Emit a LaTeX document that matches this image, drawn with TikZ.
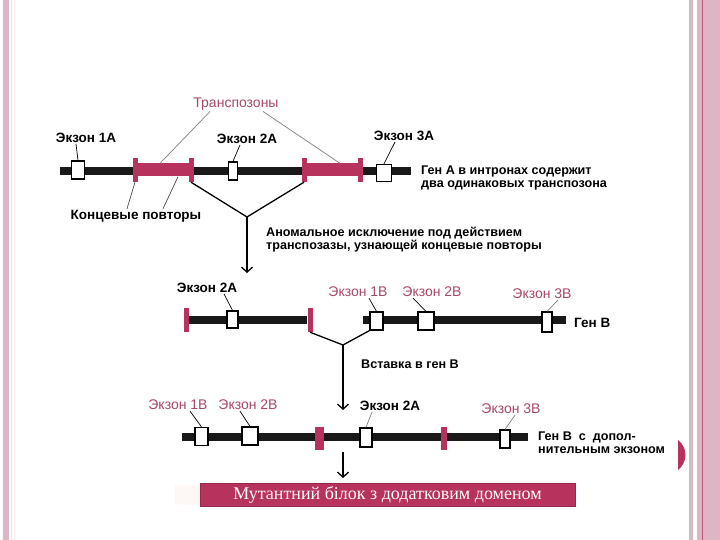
\documentclass[tikz,border=0pt]{standalone}
\usepackage{fontspec}
\setmainfont{Liberation Serif}
\setsansfont{Liberation Sans}
\usetikzlibrary{arrows.meta}
\usetikzlibrary{positioning}

\definecolor{tcrim}{HTML}{B8325E}
\definecolor{lpink}{HTML}{A8486A}
\definecolor{strip}{HTML}{DDB5C5}
\definecolor{edge}{HTML}{D2BCC4}

\begin{document}
\begin{tikzpicture}[x=1pt,y=-1pt,>={Straight Barb[length=5pt,width=11pt]},
    gene/.style={line width=8pt,black!90},
    exon/.style={draw,fill=white,line width=1.3pt,inner sep=0pt,minimum width=13pt,minimum height=18pt},
    rep/.style={fill=tcrim,inner sep=0pt,minimum width=5pt,minimum height=24pt},
    tp bar/.style={fill=tcrim,inner sep=0pt,minimum height=13pt},
    lbl/.style={font=\sffamily\bfseries\fontsize{13.5}{14}\selectfont,inner sep=1pt},
    pink lbl/.style={lbl,font=\sffamily\fontsize{14}{15}\selectfont,text=lpink},
    note/.style={font=\sffamily\bfseries\fontsize{12.6}{13}\selectfont,inner sep=1pt,align=left,anchor=west},
    lead/.style={line width=0.7pt},
    stem/.style={line width=1.3pt},
    banner/.style={fill=tcrim,draw=tcrim!80!black,text=white,font=\fontsize{18}{20}\selectfont,minimum width=375pt,minimum height=23pt,inner sep=0pt}]
   \fill[white] (0,0) rectangle (720,540);
   \useasboundingbox (0,0) rectangle (720,540);
   % frame of the slide
   \fill[strip] (3,0) rectangle (9,540);
   \draw[gray!20] (11,0) -- (11,540);
   \draw[pink!30] (14,0) -- (14,540);
   \fill[edge] (689,0) rectangle (693,540);
   \fill[strip] (697,0) rectangle (720,540);
   \draw[tcrim!80,line width=1pt] (702,0) -- (702,540);
   \fill[tcrim] (678,440) .. controls (688,448) and (688,462) .. (678,470) -- cycle;

   % gene A
   \coordinate (a0) at (60,171);
   \coordinate (a1) at (411,171);
   \draw[gene] (a0) -- (a1);
   \node[tp bar,minimum width=56pt] (t1) at (163,170) {};
   \node[rep] (r1) at (135,170) {};
   \node[rep] (r2) at (191,170) {};
   \node[tp bar,minimum width=58pt] (t2) at (331,170) {};
   \node[rep] (r3) at (304,170) {};
   \node[rep] (r4) at (360,170) {};
   \node[exon] (e1a) at (78,170) {};
   \node[exon,minimum width=9pt] (e2a) at (233,171) {};
   \node[exon,minimum width=15pt,minimum height=17pt] (e3a) at (384,173) {};
   \node[lbl] (l1a) at (86,138) {Экзон 1А};
   \node[lbl] (l2a) at (247,139) {Экзон 2А};
   \node[lbl] (l3a) at (404,136) {Экзон 3А};
   \node[pink lbl] (ltp) at (236,104) {Транспозоны};
   \node[lbl] (lrep) at (136,216) {Концевые повторы};
   \node[note] (na) at (420,178) {Ген А в интронах содержит\\два одинаковых транспозона};
   \draw[lead] ([xshift=-10pt]l1a.south) -- (e1a.north);
   \draw[lead] ([xshift=-7pt]l2a.south) -- (e2a.north);
   \draw[lead] ([xshift=-9pt]l3a.south) -- (e3a.north);
   \draw[lead,gray] ([xshift=-26pt]ltp.south) -- ([xshift=-3pt]t1.north);
   \draw[lead,gray] ([xshift=27pt]ltp.south) -- ([xshift=9pt]t2.north);
   \draw[lead,gray!60!black] ([xshift=-9pt]lrep.north) -- (r1.south);
   \draw[lead,gray!60!black] ([xshift=27pt]lrep.north) -- ([xshift=15pt]t1.south);
   % excision
   \coordinate (v1) at (247,217);
   \coordinate (v1e) at (247,273);
   \draw[stem] (r2.south) -- (v1);
   \draw[stem] (r3.south) -- (v1);
   \draw[stem,->] (v1) -- (v1e);
   \node[note] (nb) at (265,240) {Аномальное исключение под действием\\транспозазы, узнающей концевые повторы};

   % cut out piece and gene B
   \node[rep] (r5) at (186,320) {};
   \node[rep] (r6) at (310,320) {};
   \draw[gene] (r5) -- (r6);
   \node[exon,minimum width=11pt,minimum height=17pt] (x2a) at (232.5,319.5) {};
   \node[lbl] (m2a) at (207,288) {Экзон 2А};
   \draw[lead] ([xshift=17pt]m2a.south) -- (x2a.north);
   \coordinate (b0) at (363,320);
   \coordinate (b1) at (566,320);
   \draw[gene] (b0) -- (b1);
   \node[exon] (x1b) at (376.5,321) {};
   \node[exon,minimum width=16pt] (x2b) at (426,321) {};
   \node[exon,minimum width=10pt,minimum height=20pt] (x3b) at (547,322) {};
   \node[pink lbl] (m1b) at (358,292) {Экзон 1В};
   \node[pink lbl] (m2b) at (432,292) {Экзон 2В};
   \node[pink lbl] (m3b) at (542,294) {Экзон 3В};
   \node[lbl,anchor=west] (gb) at (573,323) {Ген В};
   \draw[lead] ([xshift=11pt]m1b.south) -- (x1b.north);
   \draw[lead] ([xshift=-19pt]m2b.south) -- (x2b.north);
   \draw[lead,gray] ([xshift=16pt]m3b.south) -- (x3b.north);
   % insertion
   \coordinate (v2) at (343,345);
   \coordinate (v2e) at (343,410);
   \draw[stem] (r6.south) -- (v2);
   \draw[stem] (x1b.south west) -- (v2);
   \draw[stem,->] (v2) -- (v2e);
   \node[note] (nv) at (360,364) {Вставка в ген В};

   % gene B with the new exon
   \coordinate (c0) at (182,437);
   \coordinate (c1) at (528,437);
   \draw[gene] (c0) -- (c1);
   \node[exon] (y1b) at (201.5,436.5) {};
   \node[exon,minimum width=16pt] (y2b) at (250,436) {};
   \node[rep,minimum width=9pt,minimum height=23pt] (r7) at (319.5,438) {};
   \node[exon,minimum width=12pt,minimum height=19pt] (y2a) at (366,437.5) {};
   \node[rep,minimum width=6pt,minimum height=23pt] (r8) at (444,438) {};
   \node[exon,minimum width=10pt] (y3b) at (505,439) {};
   \node[pink lbl] (k1b) at (178,405) {Экзон 1В};
   \node[pink lbl] (k2b) at (248,405) {Экзон 2В};
   \node[lbl] (k2a) at (390,406) {Экзон 2А};
   \node[pink lbl] (k3b) at (511,409) {Экзон 3В};
   \draw[lead] ([xshift=12pt]k1b.south) -- (y1b.north);
   \draw[lead] ([xshift=-8pt]k2b.south) -- (y2b.north);
   \draw[lead,gray] ([xshift=-18pt]k2a.south) -- (y2a.north);
   \draw[lead,gray] ([xshift=4pt]k3b.south) -- (y3b.north);
   \node[note] (nc) at (537,443) {Ген В \ с \ допол-\\нительным экзоном};
   \coordinate (w0) at (343,452);
   \coordinate (w1) at (343,478);
   \draw[stem,->] (w0) -- (w1);

   % result
   \fill[pink!15] (175,485) rectangle (200,505);
   \node[banner] (mut) at (387.5,494.5) {Мутантний білок з додатковим доменом};
\end{tikzpicture}
\end{document}
